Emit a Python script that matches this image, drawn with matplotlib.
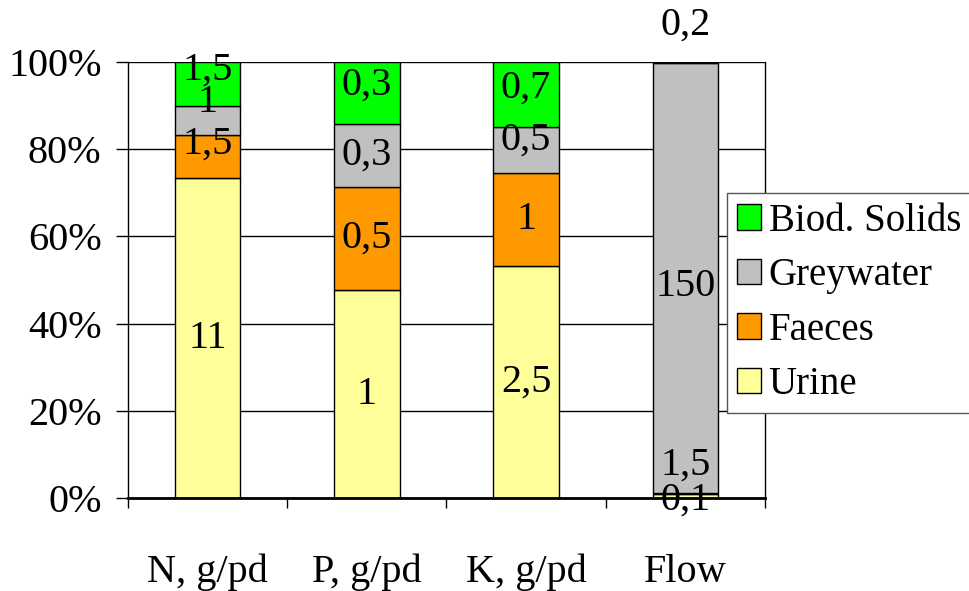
import matplotlib
matplotlib.use("Agg")
import matplotlib.pyplot as plt
import numpy as np

categories = ["N, g/pd", "P, g/pd", "K, g/pd", "Flow"]
urine = [11, 1, 2.5, 1.5]
faeces = [1.5, 0.5, 1, 0.1]
greywater = [1, 0.3, 0.5, 150]
solids = [1.5, 0.3, 0.7, 0.2]
series_names = ["Urine", "Faeces", "Greywater", "Biod. Solids"]
colors = ["#FFFF99", "#FF9900", "#C0C0C0", "#00FF00"]
yticks = [0, 20, 40, 60, 80, 100]

plt.rcParams['font.family'] = ['Liberation Serif', 'DejaVu Serif']
FS = 29

fig = plt.figure(figsize=(9.7, 5.91), dpi=100)
ax = fig.add_axes([128/970, 1-498/591, (765-128)/970, (498-62)/591])

data = np.array([urine, faeces, greywater, solids], dtype=float)
totals = data.sum(axis=0)
pct = data / totals * 100
x = np.arange(len(categories))
bottom = np.zeros(len(categories))

def fmt(v):
    return ("%g" % v).replace(".", ",")

# label offsets (pixels, upward) per column/series
offsets = {(0, 3): 14, (0, 2): 18, (0, 1): 12,
           (3, 0): 31, (3, 1): -7, (3, 2): -9, (3, 3): 37,
           (1, 3): 8, (2, 3): 6, (2, 2): 10}

handles = []
for i, name in enumerate(series_names):
    b = ax.bar(x, pct[i], 0.41, bottom=bottom, color=colors[i], edgecolor="black",
               linewidth=1.0, label=name, zorder=2)
    handles.append(b)
    for j in range(len(categories)):
        yc = bottom[j] + pct[i][j] / 2
        dy = offsets.get((j, i), 0)
        ax.annotate(fmt(data[i][j]), (x[j], yc), xytext=(0, dy * 0.72),
                    textcoords="offset points", ha="center", va="center",
                    fontsize=FS, zorder=5, annotation_clip=False)
    bottom += pct[i]

ax.set_xlim(-0.5, 3.5)
ax.set_ylim(0, 100)
ax.set_yticks(yticks)
ax.set_yticklabels(["%d%%" % t for t in yticks], fontsize=FS)
ax.yaxis.grid(True, color="black", linewidth=1.0, zorder=0)
ax.set_axisbelow(True)
ax.tick_params(axis="y", length=9, width=1, pad=10)

ax.set_xticks(x)
ax.set_xticklabels(categories, fontsize=FS)
ax.tick_params(axis="x", which="major", length=0, pad=40)
ax.set_xticks(np.arange(-0.5, 4.0, 1.0), minor=True)
ax.tick_params(axis="x", which="minor", length=7, width=1)

for s in ["left", "right", "top"]:
    ax.spines[s].set_linewidth(1.0)
    ax.spines[s].set_color("black")
ax.spines["bottom"].set_linewidth(2.0)
ax.spines["top"].set_visible(False)

leg = fig.legend(handles[::-1], series_names[::-1], loc="upper left",
                 bbox_to_anchor=(727/970, 1-193/591), bbox_transform=fig.transFigure,
                 borderaxespad=0, fontsize=28, frameon=True, fancybox=False,
                 edgecolor="#555555", framealpha=1, handlelength=0.62,
                 handleheight=0.62, handletextpad=0.2, labelspacing=0.45,
                 borderpad=0.25)
leg.get_frame().set_linewidth(1.0)
leg.set_zorder(10)

fig.savefig("out.png", dpi=100)
